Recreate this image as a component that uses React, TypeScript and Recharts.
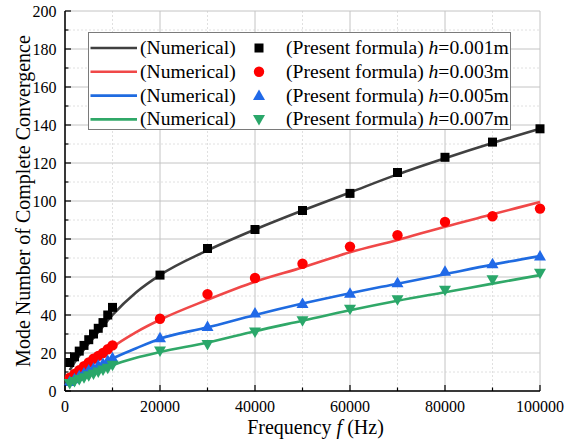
import React from "react";
import {
  ComposedChart,
  Line,
  Scatter,
  XAxis,
  YAxis,
  CartesianGrid,
  Legend,
} from "recharts";

const FONT = "Liberation Serif, Times New Roman, Times, serif";

// Marker (Present formula) frequencies
const markerFreqs = [
  1000, 2000, 3000, 4000, 5000, 6000, 7000, 8000, 9000, 10000,
  20000, 30000, 40000, 50000, 60000, 70000, 80000, 90000, 100000,
];
const black001 = [15, 18, 21, 24, 27, 30, 33, 36, 40, 44, 61, 75, 85, 95, 104, 115, 123, 131, 138];
const red003 = [7, 9, 11, 13, 15, 17, 18.5, 20, 22, 24, 38, 51, 59.5, 67, 76, 82, 89, 92, 96];
const blue005 = [5, 6.5, 8, 9.5, 11, 12, 13.5, 14.5, 16, 17.5, 28, 34, 41, 46, 51.5, 57, 63, 67, 71];
const green007 = [4, 5, 6, 7, 8, 9, 10, 11, 12, 13.5, 21, 24.5, 31, 37, 43, 48, 53, 58.5, 62];

// Numerical curves
const lineFreqs = [
  1000, 2000, 3000, 5000, 7000, 10000, 15000, 20000, 30000, 40000, 50000,
  60000, 70000, 80000, 90000, 100000,
];
const blackLine = [11, 15, 18.5, 25, 31, 40, 52, 61, 74, 85, 95, 104.5, 114, 122.5, 130.5, 138];
const redLine = [6, 8, 10, 13.5, 16.5, 23, 31, 37.5, 48, 57.5, 65, 73, 79.5, 86.5, 93, 99.5];
const blueLine = [4.5, 6, 7.5, 10, 12.5, 17, 22.5, 27.5, 33.5, 40, 46, 51.5, 56.5, 61.5, 66.5, 71];
const greenLine = [3.5, 4.5, 5.5, 8, 10, 13.5, 17.5, 20.5, 25.5, 31.5, 37, 42.5, 47.5, 52, 56.5, 61];

const xTicks = [0, 10000, 20000, 30000, 40000, 50000, 60000, 70000, 80000, 90000, 100000];
const xMajor = [0, 20000, 40000, 60000, 80000, 100000];
const xMinor = [10000, 30000, 50000, 70000, 90000];
const yTicks = [0, 10, 20, 30, 40, 50, 60, 70, 80, 90, 100, 110, 120, 130, 140, 150, 160, 170, 180, 190, 200];
const yMajor = [0, 20, 40, 60, 80, 100, 120, 140, 160, 180, 200];
const yMinor = [10, 30, 50, 70, 90, 110, 130, 150, 170, 190];

const hValues = ["0.001", "0.003", "0.005", "0.007"];

const COLORS = {
  blackLine: "#404040",
  blackMark: "#000000",
  redLine: "#f04848",
  redMark: "#ff0000",
  blueLine: "#1f6be0",
  blueMark: "#2069e8",
  greenLine: "#30a868",
  greenMark: "#2aa76a",
};

const zip = (xs: number[], ys: number[]) => xs.map((f, i) => ({ f, v: ys[i] }));

const series = [
  { name: "h=0.001m", line: zip(lineFreqs, blackLine), pts: zip(markerFreqs, black001), lc: COLORS.blackLine, mc: COLORS.blackMark, shape: "square" },
  { name: "h=0.003m", line: zip(lineFreqs, redLine), pts: zip(markerFreqs, red003), lc: COLORS.redLine, mc: COLORS.redMark, shape: "circle" },
  { name: "h=0.005m", line: zip(lineFreqs, blueLine), pts: zip(markerFreqs, blue005), lc: COLORS.blueLine, mc: COLORS.blueMark, shape: "up" },
  { name: "h=0.007m", line: zip(lineFreqs, greenLine), pts: zip(markerFreqs, green007), lc: COLORS.greenLine, mc: COLORS.greenMark, shape: "down" },
];

const Marker = ({ cx, cy, kind, color }: any) => {
  if (cx == null || cy == null) return null;
  if (kind === "square") return <rect x={cx - 4.5} y={cy - 4.5} width={9} height={9} fill={color} />;
  if (kind === "circle") return <circle cx={cx} cy={cy} r={5.2} fill={color} />;
  if (kind === "up")
    return <polygon points={`${cx},${cy - 6} ${cx - 6},${cy + 4.5} ${cx + 6},${cy + 4.5}`} fill={color} />;
  return <polygon points={`${cx},${cy + 6} ${cx - 6},${cy - 4.5} ${cx + 6},${cy - 4.5}`} fill={color} />;
};

const XTick = (props: any) => {
  const { x, y, payload, top } = props;
  const major = payload.value % 20000 === 0;
  const len = major ? 6 : 3.5;
  return (
    <g>
      <line x1={x} x2={x} y1={y} y2={top ? y + len : y - len} stroke="#000" strokeWidth={1.2} />
      {!top && major && (
        <text x={x} y={y + 21} textAnchor="middle" style={{ fontFamily: FONT }} fontSize={16} fill="#000">
          {payload.value}
        </text>
      )}
    </g>
  );
};

const YTick = (props: any) => {
  const { x, y, payload, right } = props;
  const major = payload.value % 20 === 0;
  const len = major ? 6 : 3.5;
  return (
    <g>
      <line x1={x} x2={right ? x - len : x + len} y1={y} y2={y} stroke="#000" strokeWidth={1.2} />
      {!right && major && (
        <text x={x - 8.5} y={y + 5.5} textAnchor="end" style={{ fontFamily: FONT }} fontSize={16} fill="#000">
          {payload.value}
        </text>
      )}
    </g>
  );
};

const XTitle = (props: any) => {
  const vb = props.viewBox || {};
  const cx = vb.x + vb.width / 2 + 13;
  return (
    <text x={cx} y={434} textAnchor="middle" style={{ fontFamily: FONT }} fontSize={20} fill="#000">
      Frequency <tspan fontStyle="italic">f</tspan> (Hz)
    </text>
  );
};

const YTitle = (props: any) => {
  const vb = props.viewBox || {};
  const cy = vb.y + vb.height / 2;
  return (
    <text
      x={30}
      y={cy}
      transform={`rotate(-90, 30, ${cy})`}
      textAnchor="middle"
      style={{ fontFamily: FONT }}
      fontSize={20}
      fill="#000"
    >
      Mode Number of Complete Convergence
    </text>
  );
};

const LegendBox = () => {
  const rowH = 23.8;
  return (
    <div
      style={{
        position: "relative",
        width: 423,
        height: 98,
        border: "1px solid #7a7a7a",
        background: "#fff",
        fontFamily: FONT,
        fontSize: 19.6,
        color: "#000",
        boxSizing: "border-box",
      }}
    >
      {series.map((s, i) => {
        const cy = 15 + i * rowH;
        return (
          <div key={s.name}>
            <svg style={{ position: "absolute", left: 0, top: 0 }} width={423} height={98}>
              <line x1={1.5} x2={48} y1={cy} y2={cy} stroke={s.lc} strokeWidth={2.6} />
              <Marker cx={170} cy={cy} kind={s.shape} color={s.mc} />
            </svg>
            <div style={{ position: "absolute", left: 51, top: cy - 12, lineHeight: "24px", whiteSpace: "nowrap" }}>
              (Numerical)
            </div>
            <div style={{ position: "absolute", left: 197, top: cy - 12, lineHeight: "24px", whiteSpace: "nowrap" }}>
              (Present formula) <i>h</i>={hValues[i]}m
            </div>
          </div>
        );
      })}
    </div>
  );
};

export default function App() {
  return (
    <div style={{ position: "absolute", left: 0, top: 0, width: 571, height: 441, background: "#fff", fontFamily: FONT }}>
      <ComposedChart width={571} height={441} margin={{ top: 11, right: 31, bottom: 0, left: 0 }}>
        <CartesianGrid
          verticalValues={xMinor}
          horizontalValues={yMinor}
          stroke="#d8d8d8"
          strokeDasharray="2 2"
          strokeWidth={0.8}
        />
        <CartesianGrid verticalValues={xMajor} horizontalValues={yMajor} stroke="#c4c4c4" strokeWidth={1} />
        <XAxis
          xAxisId={0}
          dataKey="f"
          type="number"
          domain={[0, 100000]}
          ticks={xTicks}
          interval={0}
          height={50}
          tickSize={0}
          tickMargin={0}
          axisLine={{ stroke: "#000", strokeWidth: 1.5 }}
          tickLine={false}
          tick={<XTick />}
          label={<XTitle />}
        />
        <XAxis
          xAxisId="top"
          orientation="top"
          dataKey="f"
          type="number"
          domain={[0, 100000]}
          ticks={xTicks}
          interval={0}
          height={0}
          tickSize={0}
          tickMargin={0}
          axisLine={{ stroke: "#000", strokeWidth: 1.5 }}
          tickLine={false}
          tick={<XTick top />}
        />
        <YAxis
          yAxisId={0}
          type="number"
          domain={[0, 200]}
          ticks={yTicks}
          interval={0}
          width={65}
          tickSize={0}
          tickMargin={0}
          axisLine={{ stroke: "#000", strokeWidth: 1.5 }}
          tickLine={false}
          tick={<YTick />}
          label={<YTitle />}
        />
        <YAxis
          yAxisId="right"
          orientation="right"
          type="number"
          domain={[0, 200]}
          ticks={yTicks}
          interval={0}
          width={0}
          tickSize={0}
          tickMargin={0}
          axisLine={{ stroke: "#000", strokeWidth: 1.5 }}
          tickLine={false}
          tick={<YTick right />}
        />
        {series.map((s) => (
          <Line
            key={"l" + s.name}
            data={s.line}
            dataKey="v"
            type="monotone"
            stroke={s.lc}
            strokeWidth={2.6}
            dot={false}
            activeDot={false}
            isAnimationActive={false}
            legendType="none"
          />
        ))}
        {series.map((s) => (
          <Scatter
            key={"s" + s.name}
            data={s.pts}
            dataKey="v"
            fill={s.mc}
            isAnimationActive={false}
            shape={(p: any) => <Marker cx={p.cx} cy={p.cy} kind={s.shape} color={s.mc} />}
          />
        ))}
        <Legend
          layout="horizontal"
          verticalAlign="middle"
          align="center"
          wrapperStyle={{ left: 88, top: 32, width: 423, height: 98 }}
          content={() => <LegendBox />}
        />
      </ComposedChart>
    </div>
  );
}
